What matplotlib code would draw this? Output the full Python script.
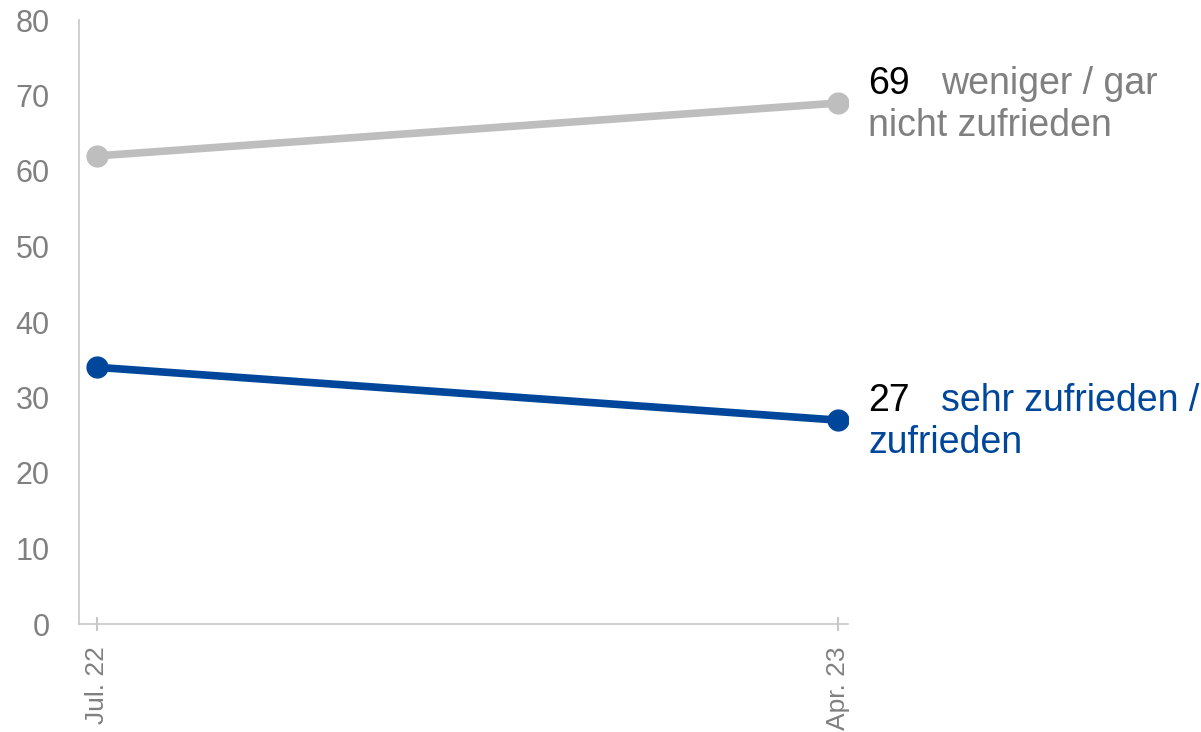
import matplotlib.pyplot as plt

# data
periods = ["Jul. 22", "Apr. 23"]
unzufrieden = [62, 69]
zufrieden = [34, 27]
label_unzufrieden = ["weniger / gar", "nicht zufrieden"]
label_zufrieden = ["sehr zufrieden /", "zufrieden"]

GREY_LINE = "#BEBEBE"
GREY_TEXT = "#808080"
BLUE = "#00479B"
AXIS = "#C8C8C8"

plt.rcParams["font.family"] = ["Liberation Sans", "DejaVu Sans"]

fig = plt.figure(figsize=(12.01, 7.32), dpi=100)
W, H = 1201, 732
ax = fig.add_axes([79 / W, (H - 624) / H, 769 / W, 604 / H])

x = list(range(len(periods)))
ax.plot(x, unzufrieden, color=GREY_LINE, lw=5.5, marker="o", ms=15,
        solid_capstyle="round", zorder=3)
ax.plot(x, zufrieden, color=BLUE, lw=5.5, marker="o", ms=15,
        solid_capstyle="round", zorder=3)

ax.set_xlim(-18 / 741, 1 + 10 / 741)
ax.set_ylim(0, 80)
ax.set_yticks(range(0, 81, 10))
ax.set_xticks(x)
ax.set_xticklabels(periods, rotation=90, va="top", ha="center")

for s in ["top", "right"]:
    ax.spines[s].set_visible(False)
for s in ["left", "bottom"]:
    ax.spines[s].set_color(AXIS)
    ax.spines[s].set_linewidth(1.2)
ax.spines["left"].set_zorder(1)

ax.tick_params(axis="y", length=0, pad=21, labelsize=22, labelcolor=GREY_TEXT)
ax.tick_params(axis="x", direction="inout", length=10, width=1.5, color=AXIS,
               pad=11, labelsize=19, labelcolor=GREY_TEXT)


def end_label(value, lines, color):
    xe = x[-1]
    ax.annotate(str(value), (xe, value), xytext=(30, 9), textcoords="offset pixels",
                fontsize=27, color="black", va="baseline", ha="left",
                annotation_clip=False)
    ax.annotate(lines[0], (xe, value), xytext=(103, 9), textcoords="offset pixels",
                fontsize=27, color=color, va="baseline", ha="left",
                annotation_clip=False)
    ax.annotate(lines[1], (xe, value), xytext=(30, -33), textcoords="offset pixels",
                fontsize=27, color=color, va="baseline", ha="left",
                annotation_clip=False)


end_label(unzufrieden[-1], label_unzufrieden, GREY_TEXT)
end_label(zufrieden[-1], label_zufrieden, BLUE)

fig.savefig("out.png", dpi=100)
